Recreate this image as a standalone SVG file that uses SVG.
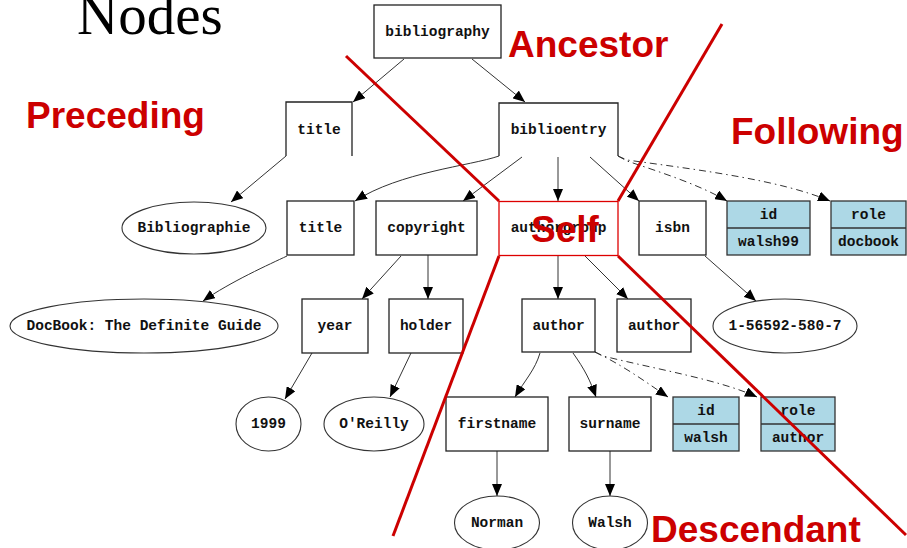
<svg xmlns="http://www.w3.org/2000/svg" width="907" height="548" viewBox="0 0 907 548">
  <style>
    .box { fill: #ffffff; stroke: #222222; stroke-width: 1.3; }
    .open { fill: none; stroke: #222222; stroke-width: 1.3; }
    .oval { fill: #ffffff; stroke: #333333; stroke-width: 1.1; }
    .rec { fill: #add8e6; stroke: #333333; stroke-width: 1.3; }
    .lbl { font-family: "Liberation Mono", "DejaVu Sans Mono", monospace; font-size: 14.5px; font-weight: bold; fill: #111111; text-anchor: middle; }
    .edge { fill: none; stroke: #333333; stroke-width: 1; marker-end: url(#arrow); }
    .dash { stroke-dasharray: 7 4 1.5 4; }
    .axis { fill: none; stroke: #cc0000; stroke-width: 3; }
    .axisname { font-family: "Liberation Sans", Arial, sans-serif; font-size: 37px; font-weight: bold; fill: #cc0000; }
  </style>
  <defs>
    <marker id="arrow" markerUnits="userSpaceOnUse" markerWidth="13" markerHeight="10" refX="12" refY="5" orient="auto">
      <path d="M0,0 L12,5 L0,10 z" fill="#000000"/>
    </marker>
  </defs>

  <rect width="907" height="548" fill="#ffffff"/>

  <text x="77" y="34" font-family="'Liberation Serif', 'Times New Roman', serif" font-size="57" fill="#000000">Nodes</text>

  <!-- tree edges -->
  <g id="connectors">
    <path class="edge" d="M404,59 L353,102"/>
    <path class="edge" d="M472,59 L525,102"/>
    <path class="edge" d="M286,156 L231,202"/>
    <path class="edge" d="M499,156 C470,166 400,172 355,201"/>
    <path class="edge" d="M522,157 L463,201"/>
    <path class="edge" d="M558,157 L558,201"/>
    <path class="edge" d="M590,157 L639,201"/>
    <path class="edge dash" d="M618,156 L627,161 C660,172 700,185 727,201"/>
    <path class="edge dash" d="M618,156 L627,160 C700,170 780,180 830,201"/>
    <path class="edge" d="M287,256 C270,264 230,282 203,301"/>
    <path class="edge" d="M401,256 L362,299"/>
    <path class="edge" d="M428,255 L428,299"/>
    <path class="edge" d="M312,353 L285,399"/>
    <path class="edge" d="M411,353 L390,397"/>
    <path class="edge" d="M558,255 L558,299"/>
    <path class="edge" d="M585,256 L628,299"/>
    <path class="edge" d="M705,256 L756,301"/>
    <path class="edge" d="M540,353 C535,370 525,380 515,397"/>
    <path class="edge" d="M573,353 C585,370 590,380 596,397"/>
    <path class="edge dash" d="M595,352 L603,356 C630,370 650,385 668,397"/>
    <path class="edge dash" d="M595,352 L603,356 C660,370 720,380 757,397"/>
    <path class="edge" d="M497,451 L497,496"/>
    <path class="edge" d="M610,451 L610,496"/>
  </g>

  <!-- element nodes -->
  <g id="bibliography"><rect class="box" x="374" y="5" width="127" height="53"/><text class="lbl" x="437.5" y="36">bibliography</text></g>
  <g id="title1"><path class="open" d="M286,156 L286,102 L352,102 L352,156"/><text class="lbl" x="319" y="134">title</text></g>
  <g id="biblioentry"><path class="open" d="M499,156 L499,103 L618,103 L618,156"/><text class="lbl" x="558.5" y="134">biblioentry</text></g>
  <g id="bibliographie"><ellipse class="oval" cx="194" cy="228" rx="72" ry="26"/><text class="lbl" x="194" y="232">Bibliographie</text></g>
  <g id="title2"><rect class="box" x="287" y="201" width="67" height="54"/><text class="lbl" x="320.5" y="232">title</text></g>
  <g id="copyright"><rect class="box" x="376" y="201" width="101" height="54"/><text class="lbl" x="426.5" y="232">copyright</text></g>
  <g id="authorgroup"><rect x="499" y="201.5" width="119" height="54" fill="#ffffff" stroke="#dd0000" stroke-width="1.3"/><text class="lbl" x="558.5" y="232">authorgroup</text></g>
  <g id="isbn"><rect class="box" x="639" y="201" width="67" height="54"/><text class="lbl" x="672.5" y="232">isbn</text></g>
  <g id="attr-id-walsh99"><rect class="rec" x="727" y="201" width="83" height="54"/><line class="rec" x1="727" y1="228" x2="810" y2="228"/><text class="lbl" x="768.5" y="219">id</text><text class="lbl" x="768.5" y="246">walsh99</text></g>
  <g id="attr-role-docbook"><rect class="rec" x="831" y="201" width="75" height="54"/><line class="rec" x1="831" y1="228" x2="906" y2="228"/><text class="lbl" x="868.5" y="219">role</text><text class="lbl" x="868.5" y="246">docbook</text></g>
  <g id="docbook-title"><ellipse class="oval" cx="144" cy="326" rx="134" ry="27"/><text class="lbl" x="144" y="330">DocBook: The Definite Guide</text></g>
  <g id="year"><rect class="box" x="302" y="299" width="66" height="54"/><text class="lbl" x="335" y="330">year</text></g>
  <g id="holder"><rect class="box" x="389" y="299" width="74" height="54"/><text class="lbl" x="426" y="330">holder</text></g>
  <g id="author1"><rect class="box" x="522" y="299" width="73" height="53"/><text class="lbl" x="558.5" y="330">author</text></g>
  <g id="author2"><rect class="box" x="617" y="299" width="74" height="53"/><text class="lbl" x="654" y="330">author</text></g>
  <g id="isbn-value"><ellipse class="oval" cx="785" cy="326" rx="72" ry="27"/><text class="lbl" x="785" y="330">1-56592-580-7</text></g>
  <g id="year-value"><ellipse class="oval" cx="268.5" cy="424" rx="32.5" ry="27"/><text class="lbl" x="268.5" y="428">1999</text></g>
  <g id="holder-value"><ellipse class="oval" cx="374" cy="424" rx="50" ry="27"/><text class="lbl" x="374" y="428">O'Reilly</text></g>
  <g id="firstname"><rect class="box" x="446" y="397" width="102" height="54"/><text class="lbl" x="497" y="428">firstname</text></g>
  <g id="surname"><rect class="box" x="569" y="397" width="82" height="54"/><text class="lbl" x="610" y="428">surname</text></g>
  <g id="attr-id-walsh"><rect class="rec" x="673" y="397" width="66" height="54"/><line class="rec" x1="673" y1="424" x2="739" y2="424"/><text class="lbl" x="706" y="415">id</text><text class="lbl" x="706" y="442">walsh</text></g>
  <g id="attr-role-author"><rect class="rec" x="761" y="397" width="74" height="54"/><line class="rec" x1="761" y1="424" x2="835" y2="424"/><text class="lbl" x="798" y="415">role</text><text class="lbl" x="798" y="442">author</text></g>
  <g id="norman"><ellipse class="oval" cx="497" cy="523" rx="42.5" ry="27"/><text class="lbl" x="497" y="527">Norman</text></g>
  <g id="walsh"><ellipse class="oval" cx="610" cy="523" rx="37.5" ry="27"/><text class="lbl" x="610" y="527">Walsh</text></g>

  <!-- axis partition overlay -->
  <g id="axes">
    <line class="axis" x1="346" y1="56" x2="499" y2="201"/>
    <line class="axis" x1="722" y1="24" x2="618" y2="201"/>
    <line class="axis" x1="499" y1="256" x2="393" y2="536"/>
    <line class="axis" x1="618" y1="256" x2="906" y2="535"/>
    <text class="axisname" x="508" y="57">Ancestor</text>
    <text class="axisname" x="26" y="128">Preceding</text>
    <text class="axisname" x="731" y="144">Following</text>
    <text class="axisname" x="531" y="242">Self</text>
    <text class="axisname" x="651" y="542">Descendant</text>
  </g>
</svg>
